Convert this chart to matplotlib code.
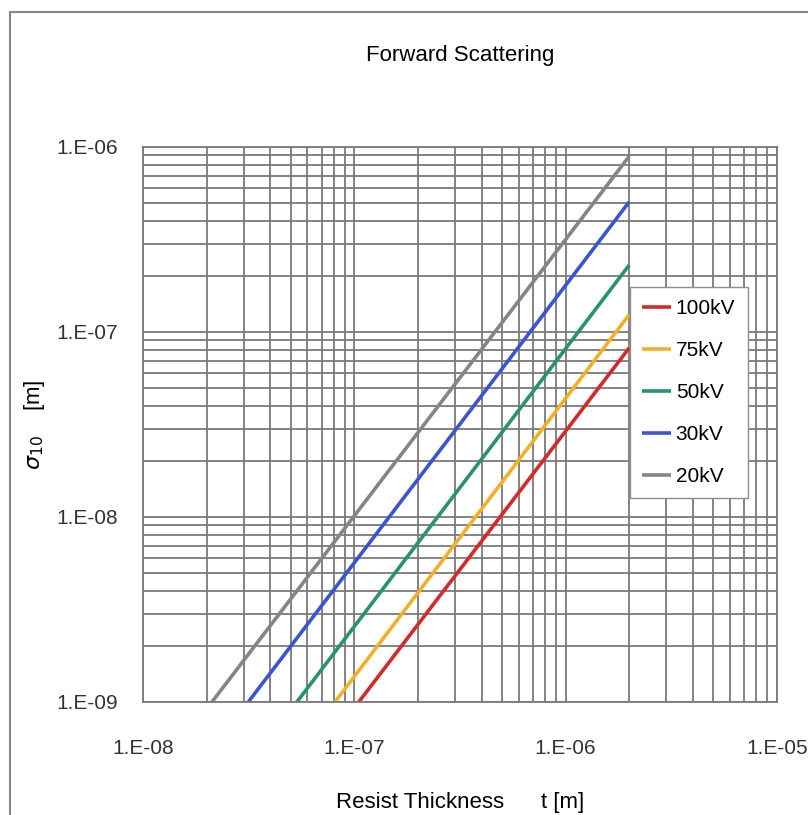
import matplotlib.pyplot as plt
from matplotlib.patches import Rectangle

# endpoints of each line (x = resist thickness, y = sigma)
labels = ['100kV', '75kV', '50kV', '30kV', '20kV']
colors = ['#d42a2a', '#f2b02a', '#2a9464', '#3a55d0', '#858585']
t_start = [1.05e-7, 8.1e-8, 5.35e-8, 3.15e-8, 2.12e-8]
t_end = [2.0e-6, 2.0e-6, 2.0e-6, 2.0e-6, 2.0e-6]
s_start = [1e-9, 1e-9, 1e-9, 1e-9, 1e-9]
s_end = [8.2e-8, 1.24e-7, 2.3e-7, 5.05e-7, 8.9e-7]

xticks = [1e-8, 1e-7, 1e-6, 1e-5]
xticklabels = ['1.E-08', '1.E-07', '1.E-06', '1.E-05']
yticks = [1e-9, 1e-8, 1e-7, 1e-6]
yticklabels = ['1.E-09', '1.E-08', '1.E-07', '1.E-06']

plt.rcParams['font.family'] = ['Liberation Sans', 'DejaVu Sans']
plt.rcParams['mathtext.fontset'] = 'dejavusans'

fig = plt.figure(figsize=(8.08, 8.15), dpi=100)
ax = fig.add_axes([0.177, 0.1387, 0.7845, 0.681])

for i in range(len(labels)):
    ax.plot([t_start[i], t_end[i]], [s_start[i], s_end[i]],
            color=colors[i], lw=2.6, label=labels[i], solid_capstyle='butt')

ax.set_xscale('log')
ax.set_yscale('log')
ax.set_xlim(1e-8, 1e-5)
ax.set_ylim(1e-9, 1e-6)
ax.set_xticks(xticks)
ax.set_xticklabels(xticklabels)
ax.set_yticks(yticks)
ax.set_yticklabels(yticklabels)
ax.tick_params(which='both', length=0, labelsize=15, colors='#333333')
ax.tick_params(axis='x', pad=27)
ax.tick_params(axis='y', pad=18)
ax.grid(True, which='both', color='#7a7a7a', lw=1.3)
ax.set_axisbelow(True)
for sp in ax.spines.values():
    sp.set_color('#7a7a7a')
    sp.set_linewidth(1.3)

ax.set_title('Forward Scattering', fontsize=16, pad=62)
ax.set_xlabel('Resist Thickness      t [m]', fontsize=16, labelpad=24)
ax.set_ylabel(r'$\sigma_{10}$    [m]', fontsize=16, labelpad=7)

leg = ax.legend(loc='upper left', bbox_to_anchor=(0.768, 0.748), fontsize=15,
                frameon=True, fancybox=False, framealpha=1, edgecolor='#909090',
                handlelength=1.4, handletextpad=0.2, labelspacing=1.1,
                borderpad=0.6, borderaxespad=0)
leg.get_frame().set_linewidth(1.0)

fig.patches.append(Rectangle((10 / 808, -0.01), 1.0, 1 - 12 / 815 + 0.01,
                             transform=fig.transFigure, fill=False,
                             edgecolor='#888888', lw=1.5))

fig.savefig('out.png', dpi=100)
